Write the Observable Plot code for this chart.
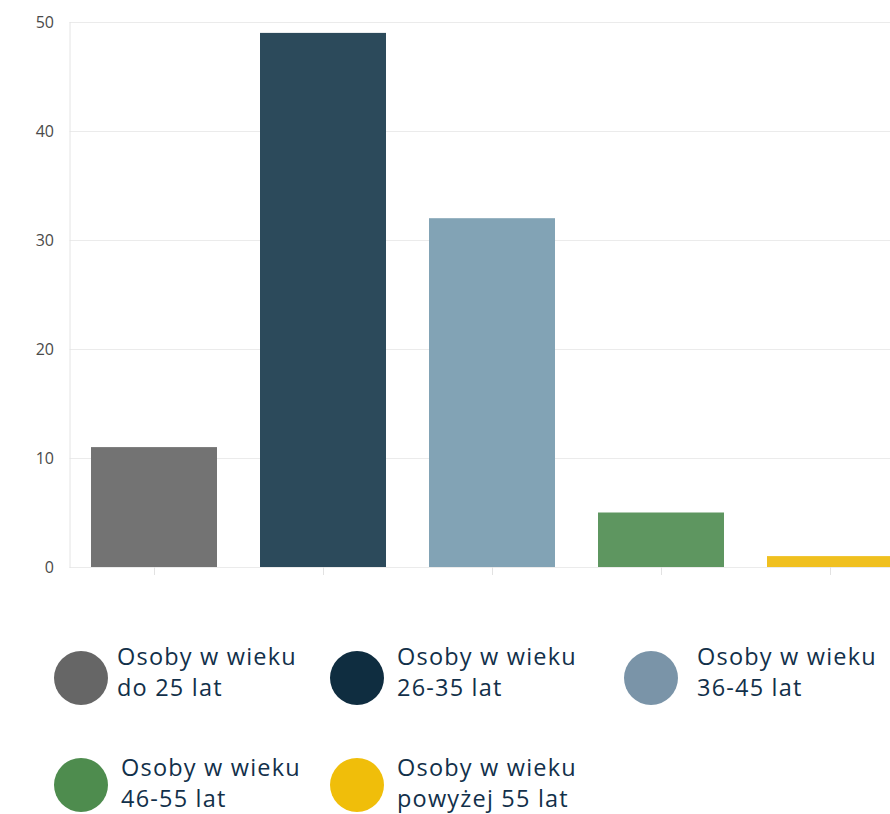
<!DOCTYPE html>
<html><head><meta charset="utf-8">
<script src="https://cdn.jsdelivr.net/npm/d3@7"></script>
<script src="https://cdn.jsdelivr.net/npm/@observablehq/plot@0.6"></script>
<style>
html,body{margin:0;padding:0;background:#fff;overflow:hidden;width:890px;height:814px;position:relative;}
#chart{position:absolute;left:0;top:0;}
#chart svg{max-width:none !important;}
.txt{position:absolute;font-family:"Open Sans",sans-serif;font-size:23.5px;line-height:31px;color:#12304a;letter-spacing:1.2px;white-space:nowrap;}
.dot{position:absolute;width:54px;height:54px;border-radius:50%;}
</style></head><body>
<div id="chart"></div>
<div id="legend"></div>
<script>
const categories = ["do 25 lat","26-35 lat","36-45 lat","46-55 lat","powyżej 55 lat"];
const values = [11, 49, 32, 5, 1];
const barColors = ["#737373","#2c4a5b","#82a3b5","#5e9660","#f0c020"];
const legendColors = ["#666666","#0f2d40","#7a94a8","#4e8c4e","#f0be0a"];
const yTicks = [0,10,20,30,40,50];

const data = categories.map((c,i)=>({cat:c, value:values[i]}));

const chart = Plot.plot({
  width: 915, height: 600,
  marginTop: 22, marginBottom: 33, marginLeft: 69.5, marginRight: 0,
  style:{fontFamily:"'Open Sans',sans-serif", fontSize:"16px", color:"#444", maxWidth:"none"},
  x:{domain:categories, paddingInner:0.254, paddingOuter:0.127, label:null},
  y:{domain:[0,50], label:null},
  color:{domain:categories, range:barColors},
  marks:[
    Plot.gridY(yTicks,{stroke:"#ebebeb", strokeOpacity:1}),
    Plot.frame({anchor:"left", stroke:"#e4e4e4"}),
    Plot.barY(data,{x:"cat", y:"value", fill:"cat"}),
    Plot.axisY(yTicks,{tickSize:0, tickPadding:16, fill:"#4a4a4a", fontSize:16}),
    Plot.axisX({tickSize:8, stroke:"#e2e2e2", tickFormat:()=>"", label:null, tickPadding:0})
  ]
});
document.getElementById("chart").appendChild(chart);

// legend layout: circle centre and text left
const dotPos = [[81,678],[357,678],[651,678],[81,785],[357,785]];
const txtPos = [[117,641],[397,641],[697,641],[121,752],[397,752]];
const leg = document.getElementById("legend");
categories.forEach((c,i)=>{
  const dot = document.createElement("div");
  dot.className="dot"; dot.style.background = legendColors[i];
  dot.style.left = (dotPos[i][0]-27)+"px"; dot.style.top = (dotPos[i][1]-27)+"px";
  const t = document.createElement("div");
  t.className="txt";
  t.style.left = txtPos[i][0]+"px"; t.style.top = txtPos[i][1]+"px";
  t.innerHTML = "Osoby w wieku<br>"+c;
  leg.appendChild(dot); leg.appendChild(t);
});
</script>
</body></html>
